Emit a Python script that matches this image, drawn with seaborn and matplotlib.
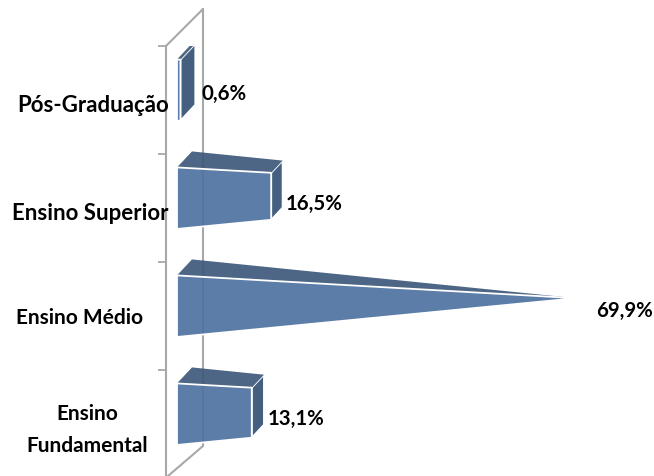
import matplotlib
matplotlib.use("Agg")
import matplotlib.pyplot as plt
import seaborn as sns
from matplotlib.colors import to_rgb
from matplotlib.lines import Line2D
from matplotlib.patches import Polygon

#Valeurs
niveaux = ["Pós-Graduação", "Ensino Superior", "Ensino Médio", "Ensino\nFundamental"]
pourcentages = [0.6, 16.5, 69.9, 13.1]
etiquettes = ["0,6%", "16,5%", "69,9%", "13,1%"]

W, H = 654, 477
FRONT = "#4F73A1"
DARK = "#3F5A7C"
GRID = "#A8A8A8"

sns.set_theme(style="white")
plt.rcParams["font.family"] = ["Lato", "DejaVu Sans"]

fig = plt.figure(figsize=(W / 100, H / 100), dpi=100, facecolor="white")

#Axe : 108 px par catégorie, 5.6 px par point de pourcentage
left, right, top, bottom = 166, 654, 47, 479
ax = fig.add_axes([left / W, 1 - bottom / H, (right - left) / W, (bottom - top) / H])
ax.patch.set_visible(False)

sns.barplot(x=pourcentages, y=niveaux, orient="h", width=0.57, ax=ax)

scale = 5.6
x0 = -(177 - left) / scale
ax.set_xlim(x0, x0 + (right - left) / scale)
ax.set_ylim(3.5, -0.5)

dx = 15 / scale
dy = 16 / 108
shift = -9.8 / 108
vmax = max(pourcentages)

#Pyramide 3D calculée à partir de chaque barre de seaborn
white_edge = dict(edgecolor="white", linewidth=1.3, joinstyle="round")
for bar in list(ax.patches):
    v = bar.get_width()
    h = bar.get_height()
    yc = bar.get_y() + h / 2 + shift
    bar.remove()
    t = v / vmax
    apex = (vmax + dx / 2, yc - dy / 2)

    def cut(px, py):
        return (px + (apex[0] - px) * t, py + (apex[1] - py) * t)

    fl_top, fl_bot = (0, yc - h / 2), (0, yc + h / 2)
    bl_top, bl_bot = (dx, yc - h / 2 - dy), (dx, yc + h / 2 - dy)
    fr_top, fr_bot = cut(*fl_top), cut(*fl_bot)
    br_top, br_bot = cut(*bl_top), cut(*bl_bot)

    ax.add_patch(Polygon([fr_top, br_top, br_bot, fr_bot], facecolor=(*to_rgb(DARK), 0.97), **white_edge))
    ax.add_patch(Polygon([fl_top, bl_top, br_top, fr_top], facecolor=(*to_rgb(DARK), 0.93), edgecolor="none"))
    ax.add_patch(Polygon([fl_top, fr_top, fr_bot, fl_bot], facecolor=(*to_rgb(FRONT), 0.93), **white_edge))

#Axe de gauche avec graduations entre les catégories
sns.despine(ax=ax, top=True, right=True, bottom=True)
ax.spines["left"].set_color(GRID)
ax.spines["left"].set_linewidth(1.5)
ax.set_xticks([])
ax.set_yticks([-0.5, 0.5, 1.5, 2.5, 3.5])
ax.set_yticklabels([])
ax.tick_params(axis="y", left=True, length=5.5, width=1.3, color=GRID)
ax.set_xlabel("")
ax.set_ylabel("")

#Étiquettes de catégories
label_x = [93, 90, 80, 87]
label_dy = [4, 5, 1, 5]
label_size = [16, 16, 15, 15]
for i, name in enumerate(niveaux):
    ax.annotate(name, xy=(0, i), xycoords=("axes fraction", "data"),
                xytext=((label_x[i] - left) * 0.72, -label_dy[i] * 0.72), textcoords="offset points",
                ha="center", va="center", fontsize=label_size[i], color="black",
                fontweight="bold", linespacing=1.8)

#Étiquettes de valeurs
value_dx = [21, 16, 28, 17]
value_dy = [-7, -5, -6, -6]
for i, (v, txt) in enumerate(zip(pourcentages, etiquettes)):
    ax.annotate(txt, xy=(v, i), xytext=(value_dx[i] * 0.72, -value_dy[i] * 0.72),
                textcoords="offset points", ha="left", va="center",
                fontsize=14.7, color="black", fontweight="bold")

#Mur du fond, derrière les barres
for (x1, y1), (x2, y2) in [((166, 47), (203, 10)), ((203, 10), (203, 447)), ((168, 477), (203, 447))]:
    fig.add_artist(Line2D([x1 / W, x2 / W], [1 - y1 / H, 1 - y2 / H], color=GRID, lw=1.5, zorder=-1))

fig.savefig("out.png", dpi=100)
